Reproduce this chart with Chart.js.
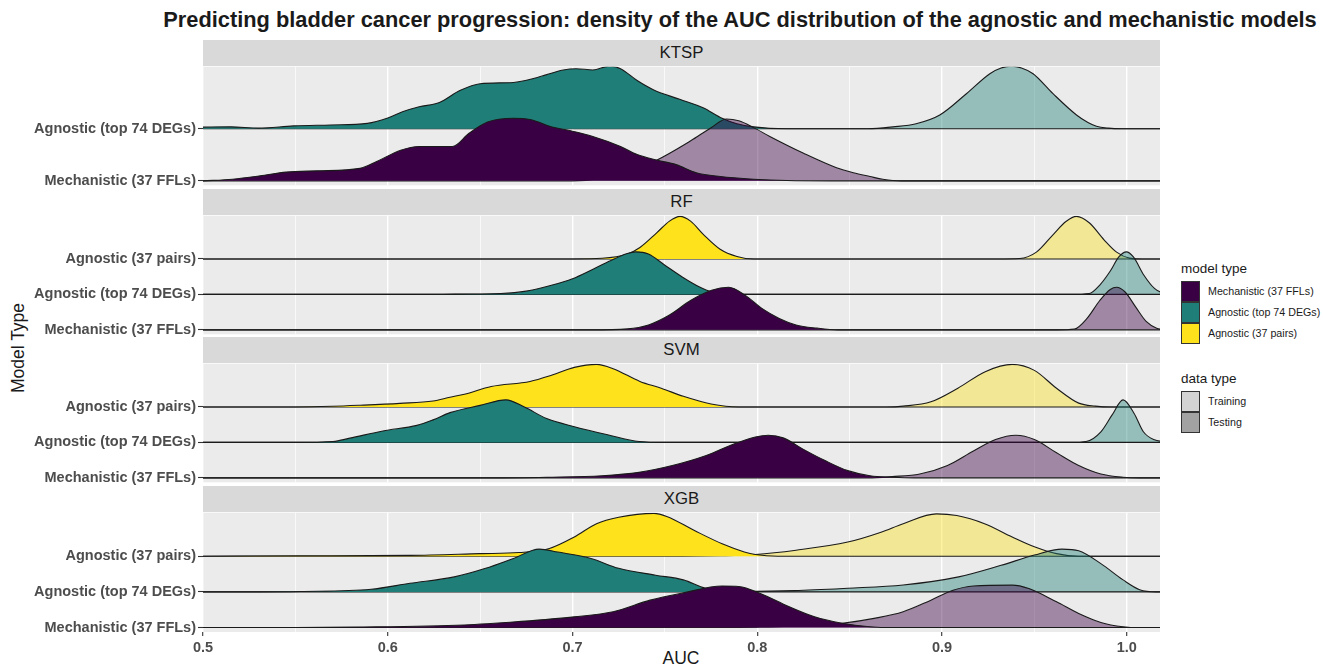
<!DOCTYPE html>
<html>
<head>
<meta charset="utf-8">
<script src="https://cdn.jsdelivr.net/npm/chart.js@4.4.1/dist/chart.umd.min.js"></script>
<style>
  body { margin: 0; background: #fff; width: 1323px; height: 665px; overflow: hidden; position: relative;
         font-family: "Liberation Sans", Arial, sans-serif; color: #1a1a1a; }
  .abs { position: absolute; white-space: nowrap; }
  .strip { position: absolute; left: 203px; width: 957px; height: 26px; background: #d9d9d9;
           font-size: 16.8px; line-height: 26px; text-align: center; color: #1a1a1a; }
  .panel { position: absolute; left: 0; width: 1160px; }
  .key { position: absolute; left: 1181px; width: 19px; height: 21px; box-sizing: border-box; border: 1px solid #333; }
  .klab { position: absolute; left: 1208px; font-size: 10.7px; line-height: 14px; }
  .ltitle { position: absolute; left: 1181px; font-size: 13.5px; line-height: 16px; }
</style>
</head>
<body>
<div class="abs" id="title" style="left:740px;top:7px;transform:translateX(-50%);font-size:21.8px;font-weight:bold;line-height:26px">Predicting bladder cancer progression: density of the AUC distribution of the agnostic and mechanistic models</div>
<div class="abs" style="left:18px;top:348px;transform:translate(-50%,-50%) rotate(-90deg);font-size:17.5px">Model Type</div>
<div class="abs" style="left:681px;top:648px;transform:translateX(-50%);font-size:17.5px;line-height:20px">AUC</div>
<div id="panels"></div>

<div class="ltitle" style="top:261px">model type</div>
<div class="key" style="top:281px;background:#3a0044"></div>
<div class="key" style="top:302px;background:#1f7f78"></div>
<div class="key" style="top:323px;background:#fde21c"></div>
<div class="klab" style="top:284px">Mechanistic (37 FFLs)</div>
<div class="klab" style="top:305px">Agnostic (top 74 DEGs)</div>
<div class="klab" style="top:326px">Agnostic (37 pairs)</div>

<div class="ltitle" style="top:371px">data type</div>
<div class="key" style="top:391px;background:#d4d4d4"></div>
<div class="key" style="top:412px;background:#a2a2a2"></div>
<div class="klab" style="top:394px">Training</div>
<div class="klab" style="top:415px">Testing</div>

<script>
// AUC axis
const X_MIN = 0.5, X_MAX = 1.018;
const X_TICKS = [0.5, 0.55, 0.6, 0.65, 0.7, 0.75, 0.8, 0.85, 0.9, 0.95, 1.0];
const X_LABELS = ['0.5', '', '0.6', '', '0.7', '', '0.8', '', '0.9', '', '1.0'];

const MODELS = ['KTSP', 'RF', 'SVM', 'XGB'];
const ROWS_2 = ['Mechanistic (37 FFLs)', 'Agnostic (top 74 DEGs)'];
const ROWS_3 = ['Mechanistic (37 FFLs)', 'Agnostic (top 74 DEGs)', 'Agnostic (37 pairs)'];

// ridge height, in rows, of a density of 1
const SCALE = 1.2;

// densities (relative, peak = 1); x in AUC
// KTSP
const ktspDegTestX  = [0.5, 0.515, 0.53, 0.549, 0.569, 0.589, 0.6, 0.608, 0.617, 0.628, 0.639, 0.65, 0.668, 0.681, 0.695, 0.702, 0.711, 0.72, 0.726, 0.735, 0.744, 0.758, 0.771, 0.78, 0.789, 0.798, 0.816, 1.02];
const ktspDegTestD  = [0.025, 0.03, 0.01, 0.045, 0.06, 0.085, 0.17, 0.27, 0.35, 0.42, 0.61, 0.72, 0.74, 0.82, 0.94, 0.96, 0.94, 1.0, 0.96, 0.77, 0.62, 0.47, 0.33, 0.18, 0.08, 0.03, 0, 0];
const ktspDegTrainX = [0.5, 0.86, 0.8735, 0.886, 0.8988, 0.9132, 0.9259, 0.932, 0.9376, 0.943, 0.9493, 0.9601, 0.9728, 0.979, 0.9836, 0.99, 0.997, 1.02];
const ktspDegTrainD = [0, 0, 0.03, 0.08, 0.22, 0.56, 0.88, 0.97, 1.0, 0.97, 0.88, 0.56, 0.22, 0.1, 0.04, 0.01, 0, 0];
const ktspMechTestX  = [0.5, 0.516, 0.531, 0.545, 0.562, 0.585, 0.594, 0.607, 0.617, 0.635, 0.644, 0.654, 0.668, 0.677, 0.689, 0.699, 0.711, 0.726, 0.735, 0.746, 0.756, 0.767, 0.78, 0.798, 0.816, 0.84, 1.02];
const ktspMechTestD  = [0, 0.027, 0.08, 0.14, 0.16, 0.2, 0.31, 0.49, 0.55, 0.55, 0.76, 0.94, 1.0, 0.98, 0.86, 0.8, 0.71, 0.55, 0.42, 0.33, 0.26, 0.13, 0.07, 0.027, 0.005, 0, 0];
const ktspMechTrainX = [0.5, 0.7, 0.715, 0.73, 0.7455, 0.764, 0.775, 0.7834, 0.79, 0.7978, 0.8068, 0.8248, 0.8429, 0.852, 0.861, 0.868, 0.878, 1.02];
const ktspMechTrainD = [0, 0, 0.04, 0.15, 0.33, 0.64, 0.85, 0.99, 0.96, 0.855, 0.71, 0.445, 0.21, 0.13, 0.07, 0.026, 0, 0];

// RF
const rfPairsTestX  = [0.5, 0.7, 0.716, 0.7297, 0.7365, 0.7457, 0.7525, 0.7582, 0.7639, 0.7708, 0.7799, 0.789, 0.7982, 1.02];
const rfPairsTestD  = [0, 0, 0.015, 0.116, 0.27, 0.62, 0.89, 1.0, 0.89, 0.58, 0.23, 0.06, 0, 0];
const rfPairsTrainX = [0.5, 0.93, 0.942, 0.9511, 0.9603, 0.9671, 0.9728, 0.9797, 0.9877, 0.9945, 1.0014, 1.0082, 1.02];
const rfPairsTrainD = [0, 0, 0.01, 0.16, 0.58, 0.88, 1.0, 0.85, 0.45, 0.16, 0.02, 0, 0];
const rfDegTestX  = [0.5, 0.6, 0.63, 0.6612, 0.6749, 0.6886, 0.7, 0.7114, 0.7205, 0.7297, 0.7342, 0.7411, 0.7502, 0.7594, 0.7685, 0.7753, 0.7845, 0.7936, 1.02];
const rfDegTestD  = [0, 0, 0.005, 0.023, 0.077, 0.216, 0.37, 0.6, 0.79, 0.96, 1.0, 0.95, 0.68, 0.41, 0.18, 0.06, 0.015, 0, 0];
const rfDegTrainX = [0.5, 0.97, 0.9797, 0.9854, 0.9911, 0.9957, 0.9998, 1.0036, 1.0093, 1.015, 1.0192, 1.025];
const rfDegTrainD = [0, 0, 0.02, 0.22, 0.55, 0.88, 1.0, 0.88, 0.45, 0.14, 0.04, 0];
const rfMechTestX  = [0.5, 0.71, 0.7297, 0.7411, 0.7525, 0.7639, 0.7753, 0.7845, 0.7936, 0.8027, 0.8119, 0.821, 0.8324, 0.8438, 1.02];
const rfMechTestD  = [0, 0, 0.023, 0.116, 0.35, 0.69, 0.93, 1.0, 0.81, 0.5, 0.27, 0.116, 0.04, 0, 0];
const rfMechTrainX = [0.5, 0.962, 0.9717, 0.9785, 0.9854, 0.9911, 0.9945, 0.9991, 1.0048, 1.0105, 1.0162, 1.021];
const rfMechTrainD = [0, 0, 0.02, 0.27, 0.69, 0.95, 1.0, 0.89, 0.54, 0.2, 0.04, 0];

// SVM
const svmPairsTestX  = [0.5, 0.55, 0.57, 0.585, 0.6066, 0.6245, 0.6337, 0.6415, 0.656, 0.677, 0.689, 0.701, 0.713, 0.722, 0.7365, 0.748, 0.76, 0.775, 0.79, 1.02];
const svmPairsTestD  = [0, 0, 0.015, 0.04, 0.085, 0.14, 0.23, 0.3, 0.48, 0.6, 0.75, 0.93, 1.0, 0.9, 0.6, 0.44, 0.25, 0.07, 0, 0];
const svmPairsTrainX = [0.5, 0.87, 0.879, 0.894, 0.9086, 0.9234, 0.938, 0.95, 0.962, 0.974, 0.983, 0.992, 1.02];
const svmPairsTrainD = [0, 0, 0.02, 0.12, 0.44, 0.83, 1.0, 0.86, 0.44, 0.09, 0.02, 0, 0];
const svmDegTestX  = [0.5, 0.55, 0.5703, 0.5795, 0.5974, 0.6158, 0.6245, 0.6337, 0.65, 0.664, 0.674, 0.686, 0.701, 0.719, 0.736, 0.75, 1.02];
const svmDegTestD  = [0, 0, 0.02, 0.1, 0.27, 0.4, 0.53, 0.7, 0.87, 1.0, 0.83, 0.56, 0.37, 0.18, 0.02, 0, 0];
const svmDegTrainX = [0.5, 0.97, 0.978, 0.986, 0.992, 0.998, 1.004, 1.009, 1.015, 1.02, 1.025];
const svmDegTrainD = [0, 0, 0.02, 0.25, 0.64, 1.0, 0.68, 0.25, 0.06, 0.02, 0];
const svmMechTestX  = [0.5, 0.66, 0.686, 0.716, 0.736, 0.754, 0.772, 0.787, 0.799, 0.806, 0.814, 0.825, 0.837, 0.849, 0.861, 0.873, 0.885, 1.02];
const svmMechTestD  = [0, 0, 0.015, 0.05, 0.13, 0.29, 0.52, 0.79, 0.96, 1.0, 0.94, 0.67, 0.4, 0.17, 0.05, 0.015, 0, 0];
const svmMechTrainX = [0.5, 0.86, 0.873, 0.888, 0.903, 0.917, 0.929, 0.94, 0.95, 0.962, 0.974, 0.986, 0.998, 1.007, 1.02];
const svmMechTrainD = [0, 0, 0.03, 0.09, 0.29, 0.63, 0.9, 1.0, 0.9, 0.59, 0.29, 0.09, 0.015, 0, 0];

// XGB
const xgbPairsTestX  = [0.5, 0.5525, 0.612, 0.65, 0.671, 0.6875, 0.701, 0.713, 0.725, 0.744, 0.751, 0.766, 0.781, 0.793, 0.799, 0.811, 1.02];
const xgbPairsTestD  = [0, 0.01, 0.02, 0.06, 0.085, 0.18, 0.45, 0.76, 0.91, 1.0, 0.93, 0.6, 0.29, 0.1, 0.04, 0, 0];
const xgbPairsTrainX = [0.5, 0.76, 0.78, 0.799, 0.821, 0.849, 0.867, 0.879, 0.897, 0.908, 0.923, 0.938, 0.95, 0.962, 0.974, 1.02];
const xgbPairsTrainD = [0, 0, 0.01, 0.04, 0.14, 0.33, 0.56, 0.76, 0.99, 0.95, 0.76, 0.45, 0.22, 0.06, 0, 0];
const xgbDegTestX  = [0.5, 0.53, 0.5525, 0.591, 0.612, 0.636, 0.653, 0.668, 0.682, 0.692, 0.71, 0.725, 0.745, 0.76, 0.772, 0.784, 0.796, 1.02];
const xgbDegTestD  = [0, 0, 0.008, 0.06, 0.2, 0.35, 0.55, 0.78, 1.0, 0.93, 0.78, 0.55, 0.39, 0.28, 0.085, 0.015, 0, 0];
const xgbDegTrainX = [0.5, 0.76, 0.82, 0.849, 0.879, 0.909, 0.932, 0.95, 0.965, 0.974, 0.986, 0.998, 1.007, 1.016, 1.02];
const xgbDegTrainD = [0, 0, 0.03, 0.085, 0.16, 0.35, 0.62, 0.86, 1.0, 0.96, 0.66, 0.28, 0.05, 0, 0];
const xgbMechTestX  = [0.5, 0.55, 0.582, 0.6415, 0.671, 0.701, 0.722, 0.742, 0.76, 0.781, 0.79, 0.802, 0.817, 0.831, 0.846, 0.861, 0.873, 1.02];
const xgbMechTestD  = [0, 0, 0.01, 0.06, 0.14, 0.25, 0.37, 0.64, 0.81, 0.97, 0.96, 0.79, 0.49, 0.25, 0.1, 0.02, 0, 0];
const xgbMechTrainX = [0.5, 0.78, 0.8, 0.83, 0.846, 0.864, 0.879, 0.894, 0.906, 0.917, 0.938, 0.947, 0.962, 0.974, 0.986, 0.998, 1.007, 1.02];
const xgbMechTrainD = [0, 0, 0.01, 0.05, 0.1, 0.22, 0.37, 0.64, 0.87, 0.97, 0.99, 0.91, 0.6, 0.33, 0.12, 0.02, 0, 0];

const COLORS = {
  mech:  { test: '#3a0044', train: 'rgba(58,0,68,0.42)' },
  deg:   { test: '#1f7f78', train: 'rgba(31,127,120,0.42)' },
  pairs: { test: '#fde21c', train: 'rgba(253,226,28,0.42)' },
};

// rows listed bottom to top
const PANELS = [
  { name: 'KTSP', top: 66, yMin: 0.915, yMax: 3.19, labels: ROWS_2, rows: [
    { key: 'mech', test: [ktspMechTestX, ktspMechTestD], train: [ktspMechTrainX, ktspMechTrainD] },
    { key: 'deg',  test: [ktspDegTestX, ktspDegTestD],   train: [ktspDegTrainX, ktspDegTrainD] },
  ]},
  { name: 'RF', top: 215, yMin: 0.875, yMax: 4.22, labels: ROWS_3, rows: [
    { key: 'mech',  test: [rfMechTestX, rfMechTestD],   train: [rfMechTrainX, rfMechTrainD] },
    { key: 'deg',   test: [rfDegTestX, rfDegTestD],     train: [rfDegTrainX, rfDegTrainD] },
    { key: 'pairs', test: [rfPairsTestX, rfPairsTestD], train: [rfPairsTrainX, rfPairsTrainD] },
  ]},
  { name: 'SVM', top: 363, yMin: 0.875, yMax: 4.22, labels: ROWS_3, rows: [
    { key: 'mech',  test: [svmMechTestX, svmMechTestD],   train: [svmMechTrainX, svmMechTrainD] },
    { key: 'deg',   test: [svmDegTestX, svmDegTestD],     train: [svmDegTrainX, svmDegTrainD] },
    { key: 'pairs', test: [svmPairsTestX, svmPairsTestD], train: [svmPairsTrainX, svmPairsTrainD] },
  ]},
  { name: 'XGB', top: 512, yMin: 0.875, yMax: 4.22, labels: ROWS_3, rows: [
    { key: 'mech',  test: [xgbMechTestX, xgbMechTestD],   train: [xgbMechTrainX, xgbMechTrainD] },
    { key: 'deg',   test: [xgbDegTestX, xgbDegTestD],     train: [xgbDegTrainX, xgbDegTrainD] },
    { key: 'pairs', test: [xgbPairsTestX, xgbPairsTestD], train: [xgbPairsTrainX, xgbPairsTrainD] },
  ]},
];

const PANEL_H = 120, STRIP_H = 26, PAD = 10, AXIS_H = 22, Y_AXIS_W = 203;
const FONT = 'Liberation Sans, Arial, sans-serif';

const isMajor = v => Math.abs(v * 10 - Math.round(v * 10)) < 1e-6;

const panelBg = {
  id: 'panelBg',
  beforeDraw(chart) {
    const { ctx, chartArea: a } = chart;
    ctx.save();
    ctx.fillStyle = '#ebebeb';
    ctx.fillRect(a.left, a.top, a.width, a.height);
    ctx.restore();
  },
};

function ridge(xs, ds, base, fill, order) {
  return {
    data: xs.map((x, i) => ({ x, y: base + SCALE * ds[i] })),
    fill: { value: base },
    backgroundColor: fill,
    borderColor: '#1a1a1a',
    borderWidth: 1.1,
    pointRadius: 0,
    cubicInterpolationMode: 'monotone',
    order,
  };
}

const host = document.getElementById('panels');

PANELS.forEach((p, pi) => {
  const last = pi === PANELS.length - 1;

  const strip = document.createElement('div');
  strip.className = 'strip';
  strip.style.top = (p.top - STRIP_H) + 'px';
  strip.textContent = p.name;
  host.appendChild(strip);

  const box = document.createElement('div');
  box.className = 'panel';
  box.style.top = (p.top - PAD) + 'px';
  box.style.height = (PANEL_H + 2 * PAD + (last ? AXIS_H : 0)) + 'px';
  const canvas = document.createElement('canvas');
  box.appendChild(canvas);
  host.appendChild(box);

  // top rows drawn first, lower rows on top; testing over training
  const n = p.rows.length;
  const datasets = [];
  p.rows.forEach((r, ri) => {
    const base = ri + 1;
    const c = COLORS[r.key];
    datasets.push(ridge(r.train[0], r.train[1], base, c.train, ri * 2 + 1));
    datasets.push(ridge(r.test[0], r.test[1], base, c.test, ri * 2));
  });

  new Chart(canvas, {
    type: 'line',
    data: { datasets },
    plugins: [panelBg],
    options: {
      animation: false, responsive: true, maintainAspectRatio: false,
      layout: { autoPadding: false, padding: { top: PAD, bottom: PAD, left: 0, right: 0 } },
      plugins: { legend: { display: false }, tooltip: { enabled: false } },
      scales: {
        x: {
          type: 'linear', min: X_MIN, max: X_MAX,
          afterBuildTicks: s => { s.ticks = X_TICKS.map(v => ({ value: v })); },
          afterFit: s => { s.height = last ? AXIS_H : 0; },
          border: { display: false },
          grid: {
            color: '#ffffff',
            lineWidth: ctx => (ctx.tick && isMajor(ctx.tick.value)) ? 1.4 : 0.7,
            drawTicks: last, tickLength: 4, tickWidth: 1.1,
            tickColor: ctx => (ctx.tick && isMajor(ctx.tick.value)) ? '#333333' : 'rgba(0,0,0,0)',
          },
          ticks: {
            display: last, autoSkip: false, maxRotation: 0, padding: 3,
            color: '#4d4d4d', font: { family: FONT, size: 14.5, weight: 'bold' },
            callback: (v, i) => X_LABELS[i],
          },
        },
        y: {
          type: 'linear', min: p.yMin, max: p.yMax,
          afterBuildTicks: s => { s.ticks = p.labels.map((_, i) => ({ value: i + 1 })); },
          afterFit: s => { s.width = Y_AXIS_W; },
          border: { display: false },
          grid: { drawOnChartArea: false, drawTicks: true, tickLength: 5, tickColor: '#333333', tickWidth: 1.1 },
          ticks: {
            autoSkip: false, padding: 2,
            color: '#4d4d4d', font: { family: FONT, size: 14.5, weight: 'bold' },
            callback: v => p.labels[Math.round(v) - 1],
          },
        },
      },
    },
  });
});
</script>
</body>
</html>
